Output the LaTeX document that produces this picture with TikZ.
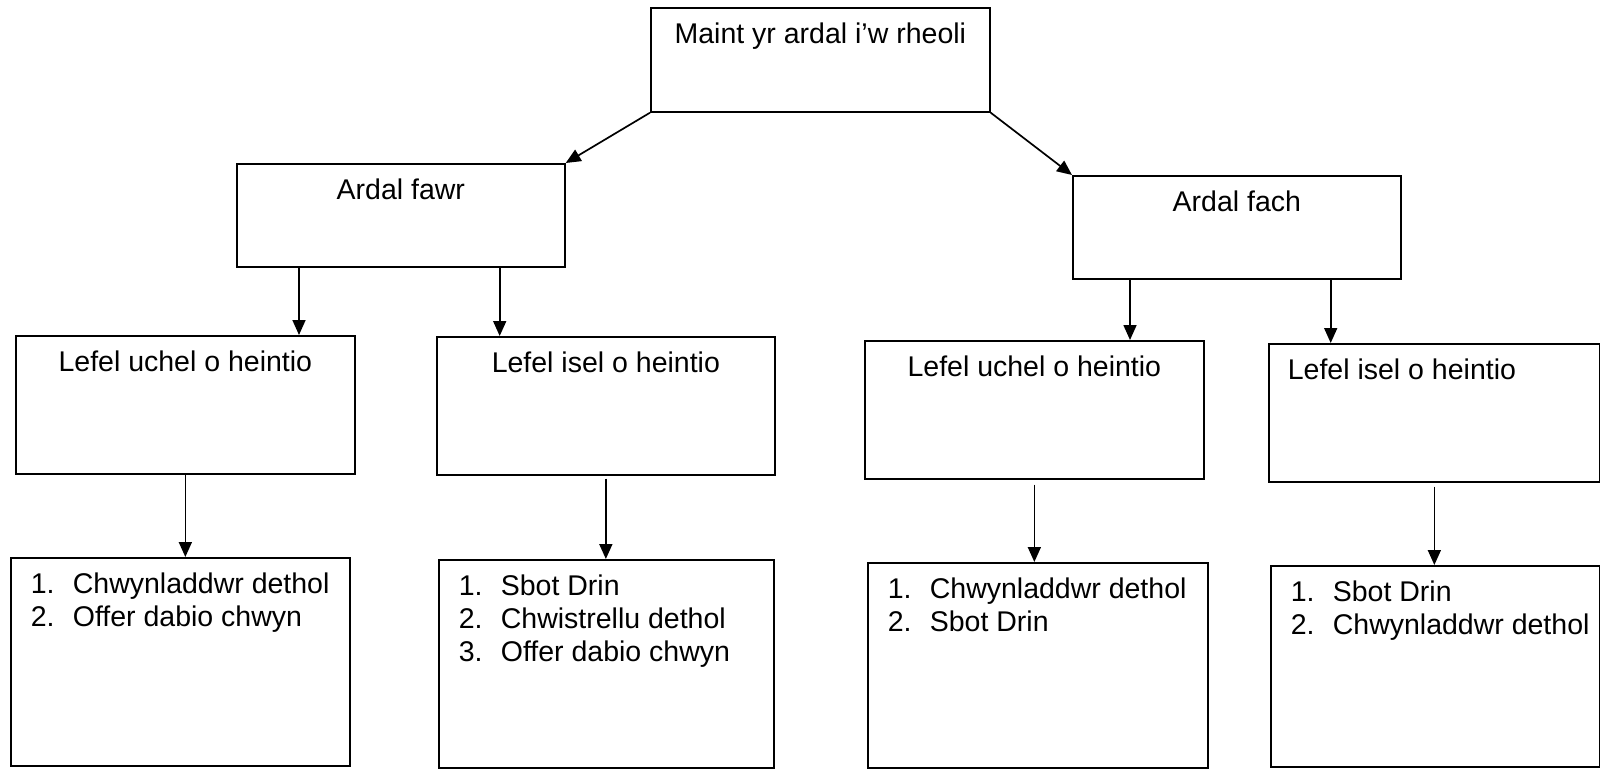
\documentclass[tikz,border=0pt]{standalone}
\usepackage{fontspec}
\setmainfont{Liberation Sans}
\usetikzlibrary{arrows.meta,calc}

\tikzset{
  box/.style={draw, rectangle, line width=1.7pt, inner sep=0pt, anchor=north west,
    text height=36pt, font=\fontsize{28.5}{33}\selectfont},
  arr/.style={-{Triangle[length=15pt,width=13pt]}, line width=1.7pt}
}
\newcommand{\nr}[2]{\mbox{\makebox[42pt][l]{#1.}#2}}

\begin{document}
\begin{tikzpicture}[x=1pt,y=-1pt]
    \useasboundingbox (0,0) rectangle (1600,768);

    % top
    \node[box, minimum width=339, text depth=68] (maint) at (650,7) {Maint yr ardal i’w rheoli};

    % size of the area
    \node[box, minimum width=328, text depth=67] (fawr) at (236,163) {Ardal fawr};
    \node[box, minimum width=328, text depth=67] (fach) at (1072,175) {Ardal fach};

    % level of infection
    \node[box, minimum width=339, text depth=102] (uchelA) at (15,335) {Lefel uchel o heintio};
    \node[box, minimum width=338, text depth=102] (iselA) at (436,336) {Lefel isel o heintio};
    \node[box, minimum width=339, text depth=102] (uchelB) at (864,340) {Lefel uchel o heintio};
    \node[box, minimum width=331, text depth=102] (iselB) at (1268,343) {\parbox[t]{293pt}{Lefel isel o heintio}};

    % methods
    \node[box, minimum width=339, text depth=172] (dullA) at (10,557)
        {\parbox[t]{299pt}{\nr{1}{Chwynladdwr dethol}\\\nr{2}{Offer dabio chwyn}}};
    \node[box, minimum width=335, text depth=172] (dullB) at (438,559)
        {\parbox[t]{295pt}{\nr{1}{Sbot Drin}\\\nr{2}{Chwistrellu dethol}\\\nr{3}{Offer dabio chwyn}}};
    \node[box, minimum width=340, text depth=169] (dullC) at (867,562)
        {\parbox[t]{300pt}{\nr{1}{Chwynladdwr dethol}\\\nr{2}{Sbot Drin}}};
    \node[box, minimum width=329, text depth=165] (dullD) at (1270,565)
        {\parbox[t]{289pt}{\nr{1}{Sbot Drin}\\\nr{2}{Chwynladdwr dethol}}};

    \coordinate (fawrA) at ($(fawr.south west)+(63,0)$);
    \coordinate (fawrB) at ($(fawr.south east)+(-66,0)$);
    \coordinate (fachA) at ($(fach.south west)+(58,0)$);
    \coordinate (fachB) at ($(fach.south east)+(-71,0)$);

    \draw[arr] (maint.south west) -- (fawr.north east);
    \draw[arr] (maint.south east) -- (fach.north west);
    \draw[arr] (fawrA) -- (fawrA |- uchelA.north);
    \draw[arr] (fawrB) -- (fawrB |- iselA.north);
    \draw[arr] (fachA) -- (fachA |- uchelB.north);
    \draw[arr] (fachB) -- (fachB |- iselB.north);
    \draw[arr] (uchelA.south) -- (uchelA.south |- dullA.north);
    \draw[arr, shorten <=3pt] (iselA.south) -- (iselA.south |- dullB.north);
    \draw[arr, shorten <=5pt] (uchelB.south) -- (uchelB.south |- dullC.north);
    \draw[arr, shorten <=4pt] (iselB.south) -- (iselB.south |- dullD.north);
\end{tikzpicture}
\end{document}
